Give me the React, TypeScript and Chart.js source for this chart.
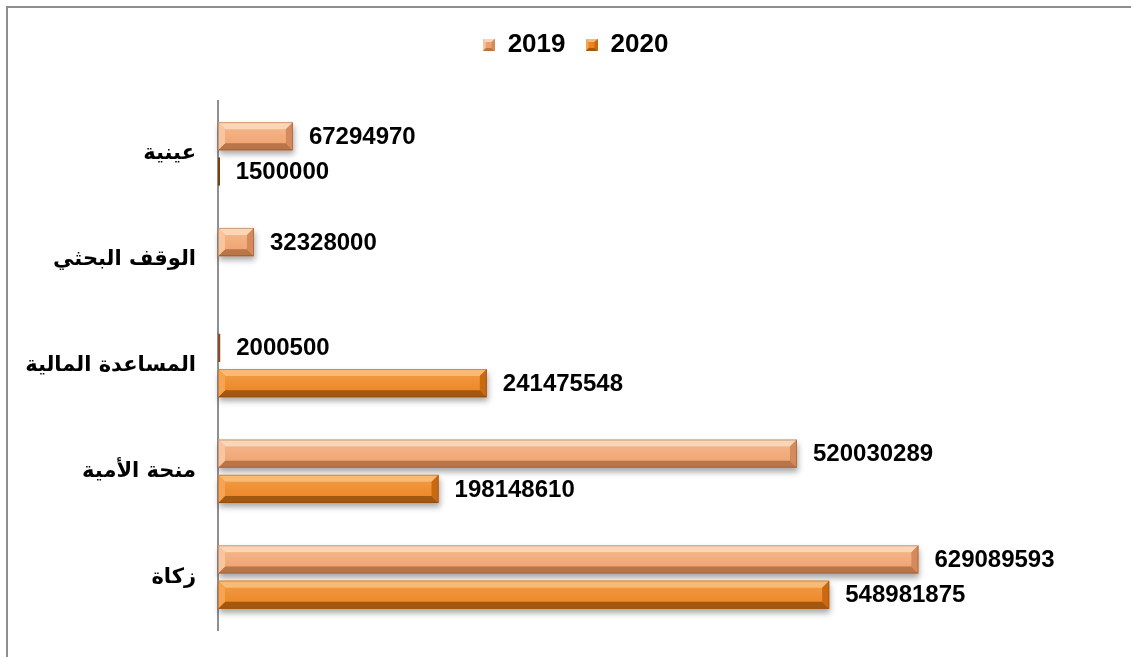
import React, { useEffect, useRef } from "react";
import { Chart, registerables } from "chart.js";

Chart.register(...registerables);

const categories = ["عينية", "الوقف البحثي", "المساعدة المالية", "منحة الأمية", "زكاة"];
const seriesNames = ["2019", "2020"];
const values2019 = [67294970, 32328000, 2000500, 520030289, 629089593];
const values2020 = [1500000, null, 241475548, 198148610, 548981875];

type Bevel = { face: string; faceLight: string; top: string; left: string; right: string; bottom: string; thin: string };

const bevel2019: Bevel = {
  face: "#EF9F6B",
  faceLight: "#F5BA90",
  top: "#FAD6B8",
  left: "#F6C6A0",
  right: "#D48A5B",
  bottom: "#B97548",
  thin: "#8A4A25",
};
const bevel2020: Bevel = {
  face: "#EC8220",
  faceLight: "#F29E48",
  top: "#F8BB76",
  left: "#F4A453",
  right: "#C96912",
  bottom: "#A4570E",
  thin: "#7A3F0A",
};
const bevels = [bevel2019, bevel2020];

function drawBevelRect(ctx: CanvasRenderingContext2D, x0: number, y0: number, x1: number, y1: number, c: Bevel, withShadow: boolean) {
  const w = x1 - x0;
  const h = y1 - y0;
  if (w <= 0 || h <= 0) return;
  if (w < 4) {
    ctx.save();
    ctx.fillStyle = c.thin;
    ctx.fillRect(x0, y0, Math.max(w, 2), h);
    ctx.restore();
    return;
  }
  const b = Math.min(7, h / 3, w / 2);
  ctx.save();
  if (withShadow) {
    ctx.shadowColor = "rgba(0,0,0,0.35)";
    ctx.shadowBlur = 6;
    ctx.shadowOffsetY = 4;
    ctx.shadowOffsetX = 1;
  }
  ctx.fillStyle = c.face;
  ctx.fillRect(x0, y0, w, h);
  ctx.restore();
  ctx.save();
  const g = ctx.createLinearGradient(0, y0, 0, y1);
  g.addColorStop(0, c.faceLight);
  g.addColorStop(1, c.face);
  ctx.fillStyle = g;
  ctx.fillRect(x0 + b, y0 + b, w - 2 * b, h - 2 * b);
  const poly = (pts: number[][], col: string) => {
    ctx.beginPath();
    ctx.moveTo(pts[0][0], pts[0][1]);
    for (let i = 1; i < pts.length; i++) ctx.lineTo(pts[i][0], pts[i][1]);
    ctx.closePath();
    ctx.fillStyle = col;
    ctx.fill();
  };
  poly([[x0, y0], [x1, y0], [x1 - b, y0 + b], [x0 + b, y0 + b]], c.top);
  poly([[x0, y1], [x1, y1], [x1 - b, y1 - b], [x0 + b, y1 - b]], c.bottom);
  poly([[x0, y0], [x0 + b, y0 + b], [x0 + b, y1 - b], [x0, y1]], c.left);
  poly([[x1, y0], [x1 - b, y0 + b], [x1 - b, y1 - b], [x1, y1]], c.right);
  ctx.strokeStyle = "rgba(120,60,20,0.35)";
  ctx.lineWidth = 1;
  ctx.strokeRect(x0 + 0.5, y0 + 0.5, w - 1, h - 1);
  ctx.restore();
}

function makeLegendIcon(c: Bevel): HTMLCanvasElement {
  const cv = document.createElement("canvas");
  cv.width = 12;
  cv.height = 12;
  const ctx = cv.getContext("2d")!;
  const b = 3;
  const x0 = 0, y0 = 0, x1 = 12, y1 = 12;
  ctx.fillStyle = c.face;
  ctx.fillRect(0, 0, 12, 12);
  const poly = (pts: number[][], col: string) => {
    ctx.beginPath();
    ctx.moveTo(pts[0][0], pts[0][1]);
    for (let i = 1; i < pts.length; i++) ctx.lineTo(pts[i][0], pts[i][1]);
    ctx.closePath();
    ctx.fillStyle = col;
    ctx.fill();
  };
  poly([[x0, y0], [x1, y0], [x1 - b, y0 + b], [x0 + b, y0 + b]], c.top);
  poly([[x0, y1], [x1, y1], [x1 - b, y1 - b], [x0 + b, y1 - b]], c.bottom);
  poly([[x0, y0], [x0 + b, y0 + b], [x0 + b, y1 - b], [x0, y1]], c.left);
  poly([[x1, y0], [x1 - b, y0 + b], [x1 - b, y1 - b], [x1, y1]], c.right);
  return cv;
}

const legendMarginPlugin = {
  id: "legendMargin",
  beforeInit(chart: any) {
    const orig = chart.legend.fit;
    chart.legend.fit = function fit() {
      orig.bind(chart.legend)();
      this.height += 33;
    };
  },
};

const bevelBarsPlugin = {
  id: "bevelBars",
  afterDatasetsDraw(chart: any) {
    const ctx: CanvasRenderingContext2D = chart.ctx;
    ctx.save();
    chart.data.datasets.forEach((ds: any, di: number) => {
      const meta = chart.getDatasetMeta(di);
      meta.data.forEach((el: any, i: number) => {
        const v = ds.data[i];
        if (v === null || v === undefined) return;
        const p = el.getProps(["x", "y", "base", "height"], true);
        const x0 = Math.min(p.base, p.x);
        const x1 = Math.max(p.base, p.x);
        drawBevelRect(ctx, x0, p.y - p.height / 2, x1, p.y + p.height / 2, bevels[di], true);
      });
    });
    ctx.font = "bold 24px 'Liberation Sans', Arial, sans-serif";
    ctx.fillStyle = "#000";
    ctx.textAlign = "left";
    ctx.textBaseline = "middle";
    chart.data.datasets.forEach((ds: any, di: number) => {
      const meta = chart.getDatasetMeta(di);
      meta.data.forEach((el: any, i: number) => {
        const v = ds.data[i];
        if (v === null || v === undefined) return;
        const p = el.getProps(["x", "y"], true);
        ctx.fillText(String(v), p.x + 16, p.y + 1);
      });
    });
    ctx.restore();
  },
};

export default function App() {
  const ref = useRef<HTMLCanvasElement | null>(null);
  useEffect(() => {
    if (!ref.current) return;
    const chart = new Chart(ref.current, {
      type: "bar",
      data: {
        labels: categories,
        datasets: [
          {
            label: seriesNames[0],
            data: values2019 as any,
            backgroundColor: "rgba(0,0,0,0)",
            borderWidth: 0,
            pointStyle: makeLegendIcon(bevel2019) as any,
            categoryPercentage: 0.667,
            barPercentage: 0.8,
          },
          {
            label: seriesNames[1],
            data: values2020 as any,
            backgroundColor: "rgba(0,0,0,0)",
            borderWidth: 0,
            pointStyle: makeLegendIcon(bevel2020) as any,
            categoryPercentage: 0.667,
            barPercentage: 0.8,
          },
        ],
      },
      options: {
        indexAxis: "y",
        responsive: false,
        animation: false,
        layout: { padding: { left: 20, right: 0, top: 12, bottom: 27 } },
        plugins: {
          legend: {
            display: true,
            position: "top",
            labels: {
              usePointStyle: true,
              font: { family: "'Liberation Sans', Arial, sans-serif", size: 26, weight: "bold" },
              color: "#000",
              padding: 20,
              boxWidth: 12,
              boxHeight: 12,
            },
          },
          tooltip: { enabled: false },
        },
        scales: {
          x: {
            display: false,
            min: 0,
            max: 820000000,
          },
          y: {
            grid: { display: false, drawTicks: true, tickLength: 22 },
            border: { display: true, color: "#8f8f8f", width: 2 },
            ticks: {
              color: "#000",
              padding: 0,
              font: { family: "'DejaVu Sans', Arial, sans-serif", size: 21, weight: "bold" },
            },
            afterFit(scale: any) {
              scale.width = 198;
            },
          },
        },
      },
      plugins: [legendMarginPlugin, bevelBarsPlugin],
    });
    return () => chart.destroy();
  }, []);
  return (
    <div style={{ position: "absolute", left: 0, top: 0, width: 1131, height: 657, overflow: "hidden", background: "#fff" }}>
      <div
        style={{
          position: "absolute",
          left: 6,
          top: 6,
          width: 1123,
          height: 649,
          borderLeft: "2px solid #8e8e8e",
          borderTop: "2px solid #8e8e8e",
        }}
      />
      <canvas ref={ref} width={1131} height={657} style={{ position: "absolute", left: 0, top: 0 }} />
    </div>
  );
}
